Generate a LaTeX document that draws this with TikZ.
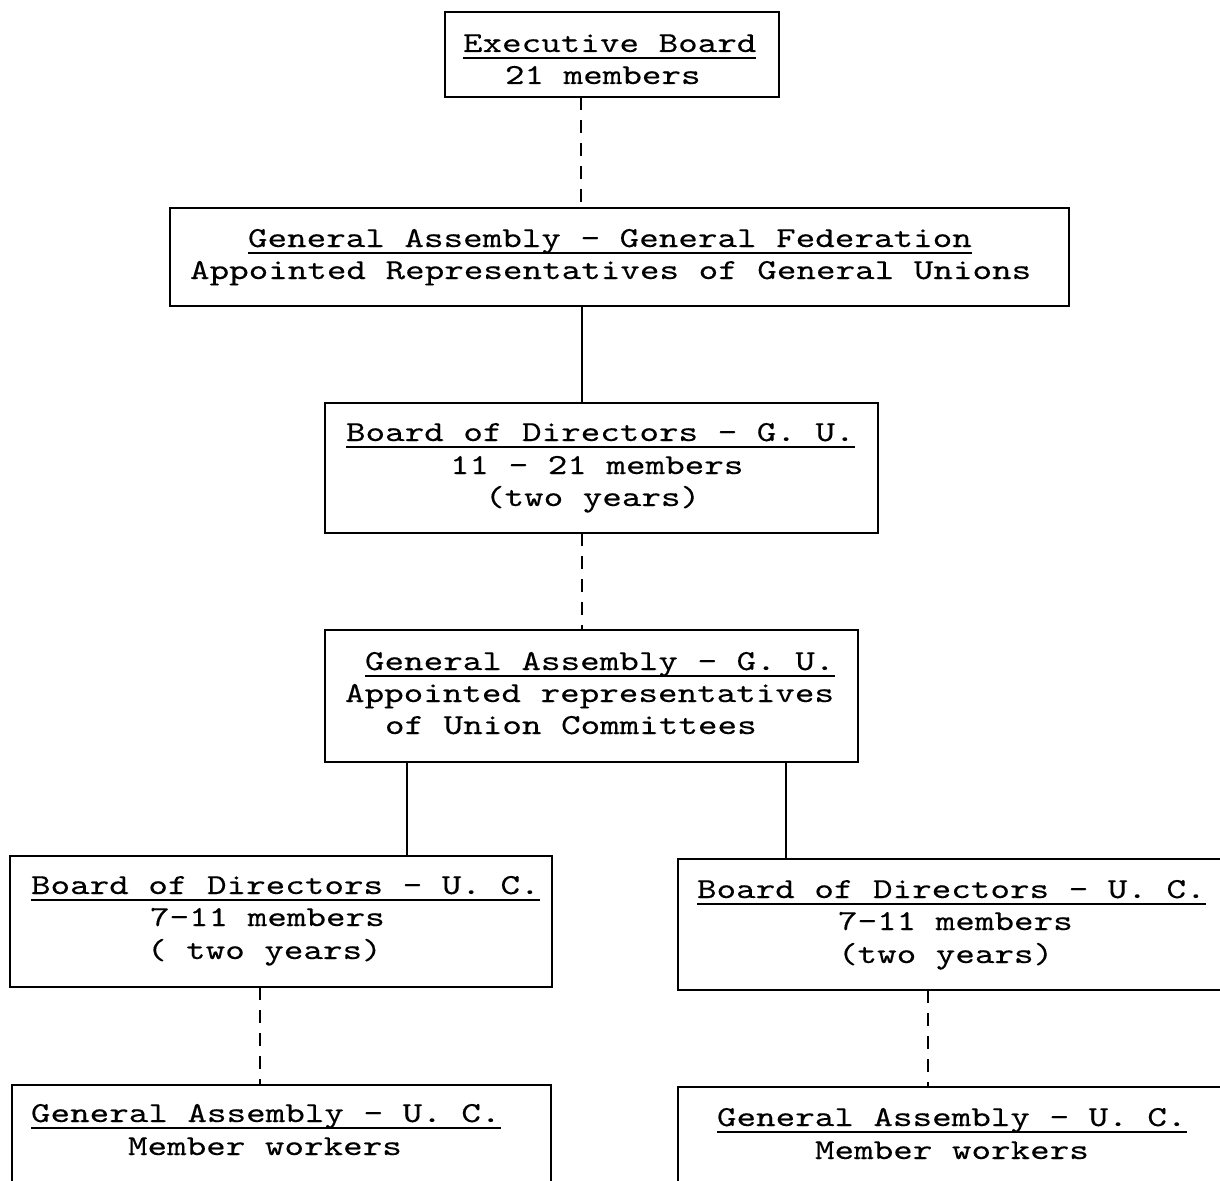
\documentclass[tikz,border=0pt]{standalone}
\usepackage{fontspec}
\setmonofont{lmmono10-regular.otf}[FakeStretch=1.285, FakeBold=0.2]
\begin{document}
\begin{tikzpicture}[x=1pt,y=-1pt,
  box/.style={draw, rectangle, line width=2.8pt, inner sep=0pt, outer sep=0pt},
  txt/.style={anchor=base west, inner sep=0pt, outer sep=0pt,
    font=\ttfamily\fontsize{29}{33}\selectfont},
  link/.style={line width=2.8pt},
  dlink/.style={line width=2.8pt, dash pattern=on 13pt off 10pt},
  uline/.style={line width=1.5pt}]
\useasboundingbox (0,0) rectangle (1220,1180);
\clip (0,0) rectangle (1220,1180);

% organisation boxes
\node[box, minimum width=334pt, minimum height=85pt]  (eb)   at (612,54.5)    {};
\node[box, minimum width=899pt, minimum height=98pt]  (gagf) at (619.5,257)   {};
\node[box, minimum width=553pt, minimum height=130pt] (bdgu) at (601.5,468)   {};
\node[box, minimum width=533pt, minimum height=132pt] (gagu) at (591.5,696)   {};
\node[box, minimum width=542pt, minimum height=131pt] (bdl)  at (281,921.5)   {};
\node[box, minimum width=562pt, minimum height=131pt] (bdr)  at (959,924.5)   {};
\node[box, minimum width=539pt, minimum height=155pt] (gal)  at (281.5,1162.5){};
\node[box, minimum width=562pt, minimum height=155pt] (gar)  at (959,1164.5)  {};

% box texts
\node[txt] (eb1) at (463,52) {Executive Board};
\node[txt] (eb2) at (505,84) {21 members};

\node[txt] (gf1) at (248,247) {General Assembly - General Federation};
\node[txt] (gf2) at (190,279) {Appointed Representatives of General Unions};

\node[txt] (bg1) at (346,441) {Board of Directors - G. U.};
\node[txt] (bg2) at (450,474) {11 - 21 members};
\node[txt] (bg3) at (485,506) {(two years)};

\node[txt] (ag1) at (365,670) {General Assembly - G. U.};
\node[txt] (ag2) at (345,702) {Appointed representatives};
\node[txt] (ag3) at (385,734) {of Union Committees};

\node[txt] (bl1) at (31,894)  {Board of Directors - U. C.};
\node[txt] (bl2) at (150,926) {7-11 members};
\node[txt] (bl3) at (147,959) {( two years)};

\node[txt] (br1) at (697,898) {Board of Directors - U. C.};
\node[txt] (br2) at (838,930) {7-11 members};
\node[txt] (br3) at (838,963) {(two years)};

\node[txt] (al1) at (31,1122)  {General Assembly - U. C.};
\node[txt] (al2) at (128,1155) {Member workers};

\node[txt] (ar1) at (717,1126) {General Assembly - U. C.};
\node[txt] (ar2) at (815,1159) {Member workers};

% underlined headings
\foreach \t in {eb1,gf1,bg1,ag1,bl1,br1,al1,ar1}
  \draw[uline] ([yshift=-6pt]\t.base west) -- ([yshift=-6pt]\t.base east);

% connectors
\draw[dlink] (eb.south -| 581,0)   -- (gagf.north -| 581,0);
\draw[link]  (gagf.south -| 582,0) -- (bdgu.north -| 582,0);
\draw[dlink] (bdgu.south -| 582,0) -- (gagu.north -| 582,0);
\draw[link]  (gagu.south -| 407,0) -- (bdl.north -| 407,0);
\draw[link]  (gagu.south -| 786,0) -- (bdr.north -| 786,0);
\draw[dlink] (bdl.south -| 260,0)  -- (gal.north -| 260,0);
\draw[dlink] (bdr.south -| 928,0)  -- (gar.north -| 928,0);
\end{tikzpicture}
\end{document}
